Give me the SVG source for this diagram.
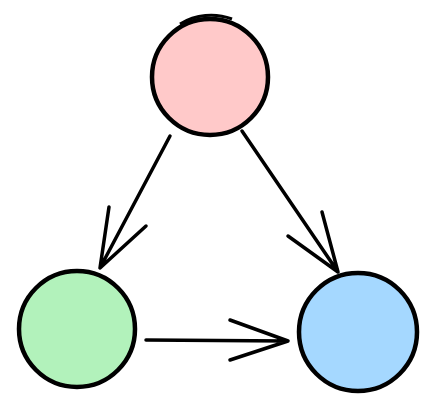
<svg xmlns="http://www.w3.org/2000/svg" width="436" height="410" viewBox="0 0 436 410">
<style>
.n{stroke:#000;stroke-width:4.5;}
.c path{fill:none;stroke:#000;stroke-width:3.5;stroke-linecap:round;stroke-linejoin:round;}
</style>
<rect width="436" height="410" fill="#fff"/>
<g id="node-top"><circle class="n" cx="210" cy="77" r="58" fill="#ffc9c9"/><path d="M180 24 A60 60 0 0 1 232 19" fill="none" stroke="#000" stroke-width="3"/></g>
<g id="node-left"><circle class="n" cx="77" cy="329" r="58" fill="#b2f2bb"/></g>
<g id="node-right"><circle class="n" cx="358" cy="332" r="59" fill="#a5d8ff"/></g>
<g id="connectors" class="c">
<path d="M170 136 L100 268 M109 207 L100 268 L146 226"/>
<path d="M242 131 L338 272 M322 212 L338 272 L288 236"/>
<path d="M146 340 L288 341 M230 320 L288 341 L230 360"/>
</g>
</svg>
